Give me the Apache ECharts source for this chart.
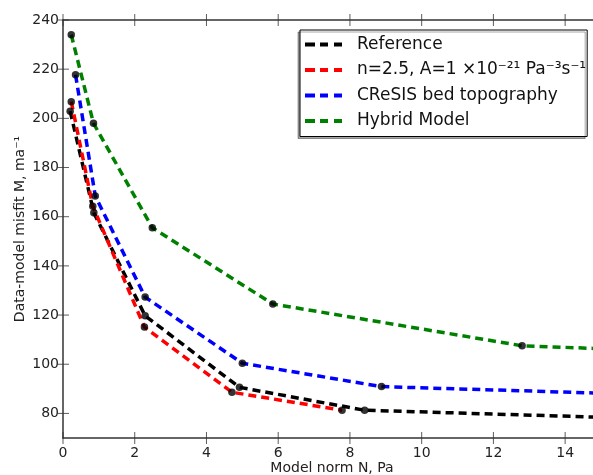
<!DOCTYPE html>
<html><head><meta charset="utf-8">
<script src="https://cdn.jsdelivr.net/npm/echarts@6/dist/echarts.min.js"></script>
<style>html,body{margin:0;padding:0;background:#fff}#c{width:593px;height:475px}</style>
</head><body><div id="c"></div>
<script>
// Series data (x = model norm N, y = misfit M)
const refX = [0.20, 0.86, 2.29, 4.92, 8.41, 16.0];
const refY = [202.9, 161.6, 119.7, 90.6, 81.3, 78.0];
const redX = [0.23, 0.83, 2.27, 4.71, 7.78];
const redY = [206.8, 164.3, 115.1, 88.6, 81.3];
const blueX = [0.35, 0.90, 2.29, 5.00, 8.88, 16.0];
const blueY = [217.7, 168.4, 127.3, 100.4, 90.9, 87.8];
const greenX = [0.23, 0.85, 2.49, 5.85, 12.8, 16.0];
const greenY = [234.0, 198.0, 155.5, 124.5, 107.5, 105.8];
const seriesNames = ['Reference', 'n=2.5, A=1 ×10⁻²¹ Pa⁻³s⁻¹', 'CReSIS bed topography', 'Hybrid Model'];
const yTicks = [80, 100, 120, 140, 160, 180, 200, 220, 240];
const xTicks = [0, 2, 4, 6, 8, 10, 12, 14];
const X_MIN = 0, X_MAX = 15, Y_MIN = 70, Y_MAX = 240;

const pairs = (xs, ys) => xs.map((x, i) => [x, ys[i]]);
const colors = ['#000000', '#ff0000', '#0000ff', '#008000'];
const all = [pairs(refX, refY), pairs(redX, redY), pairs(blueX, blueY), pairs(greenX, greenY)];
const legendNames = ['Reference', 'n=2.5', 'CReSIS bed topography', 'Hybrid Model'];
const legendText = {};
legendNames.forEach((n, i) => legendText[n] = seriesNames[i]);

const font = 'DejaVu Sans';
const axisCol = '#333';
const dashIcon = 'path://M0,0h10v4h-10z M15,0h8v4h-8z M29,0h8v4h-8z';
const series = [];
all.forEach((d, i) => {
  series.push({
    name: legendNames[i], type: 'line', data: d, symbol: 'none', clip: true, z: 2,
    lineStyle: { color: colors[i], width: 3.5, type: [8, 5], cap: 'butt' },
    itemStyle: { color: colors[i] }
  });
});
all.forEach((d, i) => {
  series.push({
    type: 'scatter', data: d, symbol: 'circle', symbolSize: 7.5, z: 5, clip: true,
    itemStyle: { color: '#000' }, silent: true
  });
});
// inward tick marks (clipped by the grid so only the inner half shows)
const tickStyle = { color: axisCol };
series.push({ type: 'scatter', silent: true, clip: true, z: 6, symbol: 'rect', symbolSize: [1, 12],
  itemStyle: tickStyle, data: xTicks.map(x => [x, Y_MIN]).concat(xTicks.map(x => [x, Y_MAX])) });
series.push({ type: 'scatter', silent: true, clip: true, z: 6, symbol: 'rect', symbolSize: [12, 1],
  itemStyle: tickStyle, data: yTicks.map(y => [X_MIN, y]) });

const chart = echarts.init(document.getElementById('c'), null, { renderer: 'canvas' });
chart.setOption({
  animation: false,
  backgroundColor: '#fff',
  grid: { left: 63, top: 20, right: -8, bottom: 37, containLabel: false, outerBoundsMode: 'none' },
  xAxis: [{
    type: 'value', min: X_MIN, max: X_MAX, interval: 2, position: 'bottom',
    name: 'Model norm N, Pa', nameLocation: 'middle', nameGap: 23, nameMoveOverlap: false,
    nameTextStyle: { fontFamily: font, fontSize: 14, color: '#222' },
    axisLine: { lineStyle: { color: axisCol, width: 1.5 } },
    axisTick: { show: false },
    axisLabel: { fontFamily: font, fontSize: 14, color: '#222', margin: 8, customValues: xTicks },
    splitLine: { show: false }
  }, {
    type: 'value', min: X_MIN, max: X_MAX, interval: 2, position: 'top',
    axisLine: { show: true, onZero: false, lineStyle: { color: axisCol, width: 1.5 } },
    axisTick: { show: false },
    axisLabel: { show: false }, splitLine: { show: false }
  }],
  yAxis: [{
    type: 'value', min: Y_MIN, max: Y_MAX, interval: 10,
    name: 'Data-model misfit M, ma⁻¹', nameLocation: 'middle', nameGap: 36, nameMoveOverlap: false,
    nameTextStyle: { fontFamily: font, fontSize: 14, color: '#222' },
    axisLine: { show: true, lineStyle: { color: axisCol, width: 1.5 } },
    axisTick: { show: false },
    axisLabel: { fontFamily: font, fontSize: 14, color: '#222', margin: 4, customValues: yTicks },
    splitLine: { show: false }
  }],
  legend: {
    orient: 'vertical', left: 300, top: 30,
    data: legendNames.map(n => ({ name: n, icon: dashIcon })),
    itemWidth: 37, itemHeight: 4, itemGap: 8.5,
    padding: [6, 1, 7, 5],
    borderColor: '#000', borderWidth: 1, backgroundColor: '#fff',
    shadowColor: 'rgba(0,0,0,0.35)', shadowOffsetX: -2, shadowOffsetY: 2, shadowBlur: 0,
    formatter: n => legendText[n],
    textStyle: { fontFamily: font, fontSize: 17, color: '#111', padding: [0, 0, 0, 10], height: 17, lineHeight: 17 }
  },
  series: series
});
</script></body></html>
